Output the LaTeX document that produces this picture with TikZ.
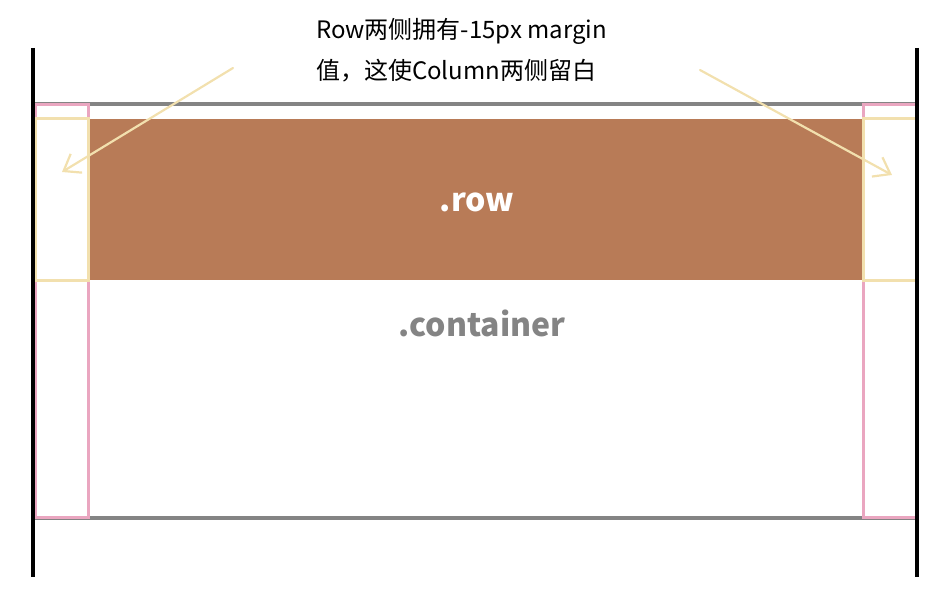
\documentclass[tikz,border=0pt]{standalone}
\usepackage{fontspec}
\setmainfont{Noto Sans CJK SC}
\usetikzlibrary{arrows.meta}

\definecolor{rowbrown}{RGB}{184,123,87}
\definecolor{colpink}{RGB}{234,166,192}
\definecolor{cellyellow}{RGB}{242,224,174}
\definecolor{boxgray}{RGB}{132,132,132}

\begin{document}
\begin{tikzpicture}[
	x = 1pt, y = -1pt,
	every node/.style = {inner sep = 0pt, outer sep = 0pt},
	box/.style = {draw, rectangle, minimum width = #1},
	colbox/.style = {box = 53pt, minimum height = 412pt, draw = colpink, line width = 3pt},
	cellbox/.style = {box = 53pt, minimum height = 161pt, draw = cellyellow, line width = 3pt},
	hint/.style = {draw = cellyellow, line width = 2.2pt, line cap = round,
		-{Straight Barb[length = 15pt, width = 22pt, line width = 2.2pt]}},
	label/.style = {font = \bfseries\fontsize{32}{38}\selectfont}
	]
	\useasboundingbox (0,0) rectangle (948,596);
	\node[box = 884pt, minimum height = 414pt, draw = boxgray, line width = 3.5pt] (container) at (475,311) {};
	\node[colbox] (lcol) at (61.5,311) {};
	\node[colbox] (rcol) at (889.5,311) {};
	\node[box = 775pt, minimum height = 161pt, draw = none, fill = rowbrown] (row) at (475.5,199.5) {};
	\node[cellbox] (lcell) at (61.5,199.5) {};
	\node[cellbox] (rcell) at (889.5,199.5) {};
	\draw[line width = 3.5pt] (33,48) coordinate (ltop) -- (33,577) coordinate (lbot);
	\draw[line width = 3.5pt] (917,48) coordinate (rtop) -- (917,577) coordinate (rbot);
	\node[label, text = white] (rowtext) at (477,202) {.row};
	\node[label, text = boxgray] (containertext) at (482,323) {.container};
	\node[anchor = north west, align = left, font = \fontsize{24}{41}\selectfont] (note) at (316,18)
		{Row两侧拥有-15px margin\\值，这使Column两侧留白};
	\coordinate (lstart) at (233,68);
	\coordinate (rstart) at (700,70);
	\draw[hint] (lstart) -- ([xshift = 0.5pt, yshift = 27.5pt]lcell.center);
	\draw[hint] (rstart) -- ([xshift = 2.5pt, yshift = 24.5pt]rcell.center);
\end{tikzpicture}
\end{document}
